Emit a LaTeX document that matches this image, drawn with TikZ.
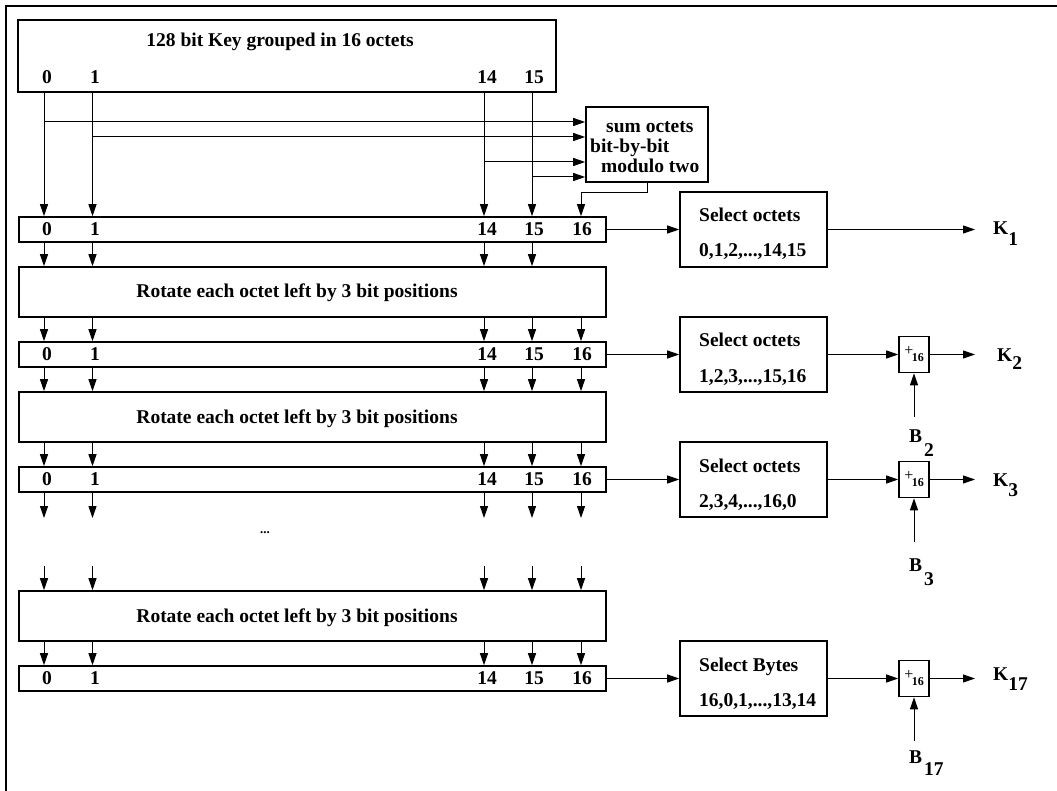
\documentclass[tikz,border=0pt]{standalone}
\usepackage{fontspec}
\setmainfont{Liberation Serif}
\usetikzlibrary{arrows.meta}
\begin{document}
\begin{tikzpicture}[x=1pt,y=-1pt,
  lbl/.style={font=\fontsize{19.5}{23}\selectfont\bfseries, inner sep=0pt},
  boxn/.style={draw, line width=1.6pt, inner sep=0pt},
  rowbox/.style={boxn, minimum width=587pt, minimum height=25pt},
  rotbox/.style={boxn, minimum width=587pt, minimum height=50pt},
  selbox/.style={boxn, minimum width=147pt, minimum height=75pt},
  addbox/.style={boxn, minimum width=30pt, minimum height=36pt,
     font=\fontsize{12}{12}\selectfont\bfseries},
  arr/.style={line width=1pt, -{Triangle[length=12pt,width=8pt]}},
  ln/.style={line width=1pt}]
\useasboundingbox (0,0) rectangle (1057,791);
% frame
\draw[line width=2.2pt] (6,791) -- (6,6) -- (1057,6);

% columns
\coordinate (c0) at (44,0);
\coordinate (c1) at (92.5,0);
\coordinate (c14) at (484,0);
\coordinate (c15) at (532,0);
\coordinate (c16) at (581,0);

% top box
\node[boxn, minimum width=538pt, minimum height=72pt] (top) at (287,56) {};
\node[lbl, anchor=base] (title) at (280,47) {128 bit Key grouped in 16 octets};
\node[lbl] (t0) at (47,77) {0};
\node[lbl] (t1) at (95,77) {1};
\node[lbl] (t14) at (487,77) {14};
\node[lbl] (t15) at (534,77) {15};

% sum box
\node[boxn, minimum width=122pt, minimum height=75pt] (sum) at (647,144.5) {};
\node[lbl, anchor=base west] (sa) at (606,133) {sum octets};
\node[lbl, anchor=base west] (sb) at (590,153) {bit-by-bit};
\node[lbl, anchor=base west] (sc) at (601,173) {modulo two};

% rows
\foreach \n/\y in {row1/229.5,row2/354.5,row3/479.5,row4/678.5}{
  \node[rowbox] (\n) at (312.5,\y) {};
  \node[lbl] (\n-l0) at (47,\y) {0};
  \node[lbl] (\n-l1) at (95,\y) {1};
  \node[lbl] (\n-l14) at (487,\y) {14};
  \node[lbl] (\n-l15) at (534,\y) {15};
  \node[lbl] (\n-l16) at (582,\y) {16};
}
% rotate boxes
\foreach \n/\y in {rot1/292,rot2/417,rot3/616}{
  \node[rotbox] (\n) at (312.5,\y) {};
  \node[lbl, anchor=base] (\n-t) at (297,\y+6) {Rotate each octet left by 3 bit positions};
}

% select boxes
\node[selbox] (sel1) at (753.5,229.5) {};
\node[selbox] (sel2) at (753.5,354.5) {};
\node[selbox] (sel3) at (753.5,479.5) {};
\node[selbox] (sel4) at (753.5,678.5) {};
\node[lbl, anchor=base west] (s1a) at (699,222) {Select octets};
\node[lbl, anchor=base west] (s1b) at (699,257) {0,1,2,...,14,15};
\node[lbl, anchor=base west] (s2a) at (699,347) {Select octets};
\node[lbl, anchor=base west] (s2b) at (699,382) {1,2,3,...,15,16};
\node[lbl, anchor=base west] (s3a) at (699,472) {Select octets};
\node[lbl, anchor=base west] (s3b) at (699,507) {2,3,4,...,16,0};
\node[lbl, anchor=base west] (s4a) at (699,671) {Select Bytes};
\node[lbl, anchor=base west] (s4b) at (699,706) {16,0,1,...,13,14};

% adders
\foreach \n/\y in {add2/354.5,add3/479.5,add17/678.5}{
  \node[addbox] (\n) at (914,\y) {{\fontsize{16}{16}\selectfont\mdseries\raisebox{3pt}{+}}\kern-1.5pt\raisebox{-3pt}{16}};
}

% output coordinates
\coordinate (k1e) at (975,229.5);
\coordinate (k2e) at (975,354.5);
\coordinate (k3e) at (975,479.5);
\coordinate (k17e) at (975,678.5);
\coordinate (b2s) at (914,416.5);
\coordinate (b3s) at (914,541.5);
\coordinate (b17s) at (914,740.5);

% K and B labels
\node[lbl, anchor=base west] (K1) at (993,235) {K\raisebox{-10.5pt}{1}};
\node[lbl, anchor=base west] (K2) at (997,361) {K\raisebox{-9pt}{2}};
\node[lbl, anchor=base west] (K3) at (993,486) {K\raisebox{-10pt}{3}};
\node[lbl, anchor=base west] (K17) at (993,680) {K\raisebox{-10.5pt}{17}};
\node[lbl, anchor=base west] (B2) at (909,442) {B\kern2pt\raisebox{-14pt}{2}};
\node[lbl, anchor=base west] (B3) at (909,571) {B\kern2pt\raisebox{-14pt}{3}};
\node[lbl, anchor=base west] (B17) at (909,763) {B\kern2pt\raisebox{-12pt}{17}};

% dots
\node[font=\fontsize{13}{13}\selectfont\bfseries, inner sep=0pt] (dots) at (265,533) {...};

% gap coordinates
\coordinate (gapa) at (0,518);
\coordinate (gapb) at (0,566);
\coordinate (br0) at (0,122);
\coordinate (br1) at (0,137);
\coordinate (br14) at (0,162);
\coordinate (br15) at (0,177);

% top box to row1
\foreach \c in {c0,c1,c14,c15}{
  \draw[arr] (top.south -| \c) -- (row1.north -| \c);
}
% branches into sum box
\draw[arr] (c0 |- br0) -- (sum.west |- br0);
\draw[arr] (c1 |- br1) -- (sum.west |- br1);
\draw[arr] (c14 |- br14) -- (sum.west |- br14);
\draw[arr] (c15 |- br15) -- (sum.west |- br15);
% sum output
\draw[arr] (sum.south) -- ++(0,10) -| (row1.north -| c16);

% row1 to rot1 (no 16)
\foreach \c in {c0,c1,c14,c15}{
  \draw[arr] (row1.south -| \c) -- (rot1.north -| \c);
}
\foreach \c in {c0,c1,c14,c15,c16}{
  \draw[arr] (rot1.south -| \c) -- (row2.north -| \c);
  \draw[arr] (row2.south -| \c) -- (rot2.north -| \c);
  \draw[arr] (rot2.south -| \c) -- (row3.north -| \c);
  \draw[arr] (row3.south -| \c) -- (\c |- gapa);
  \draw[arr] (\c |- gapb) -- (rot3.north -| \c);
  \draw[arr] (rot3.south -| \c) -- (row4.north -| \c);
}

% to select boxes
\draw[arr] (row1.east) -- (sel1.west);
\draw[arr] (row2.east) -- (sel2.west);
\draw[arr] (row3.east) -- (sel3.west);
\draw[arr] (row4.east) -- (sel4.west);
% outputs
\draw[arr] (sel1.east) -- (k1e);
\draw[arr] (sel2.east) -- (add2.west);
\draw[arr] (sel3.east) -- (add3.west);
\draw[arr] (sel4.east) -- (add17.west);
\draw[arr] (add2.east) -- (k2e);
\draw[arr] (add3.east) -- (k3e);
\draw[arr] (add17.east) -- (k17e);
\draw[arr] (b2s) -- (add2.south);
\draw[arr] (b3s) -- (add3.south);
\draw[arr] (b17s) -- (add17.south);
\end{tikzpicture}
\end{document}
